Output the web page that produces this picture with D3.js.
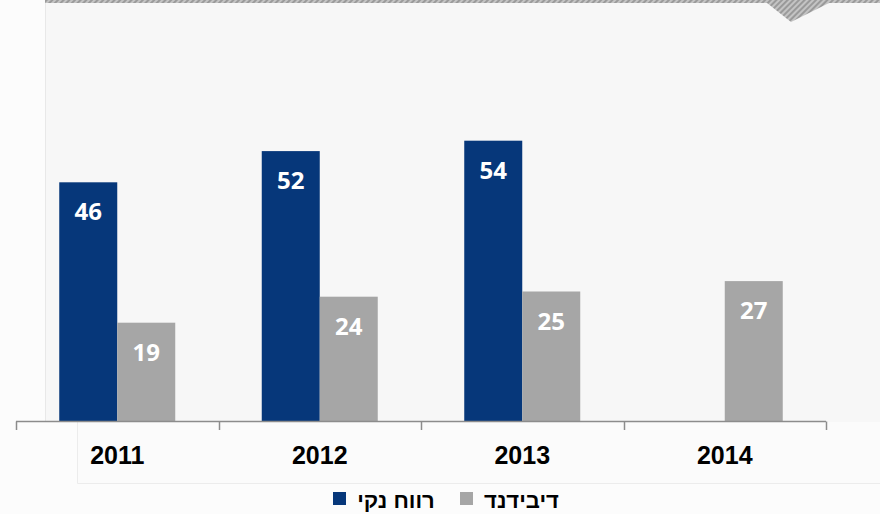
<!DOCTYPE html>
<html><head><meta charset="utf-8">
<script src="https://cdn.jsdelivr.net/npm/d3@7"></script>
<style>html,body{margin:0;padding:0;background:#fcfcfc;}svg{display:block;}</style>
</head><body>
<script>
const years = ["2011","2012","2013","2014"];
const netProfit = [46, 52, 54, null];
const dividend = [19, 24, 25, 27];
const seriesNames = ["רווח נקי", "דיבידנד"];
const seriesColors = ["#06377a", "#a6a6a6"];

const W = 880, H = 514;
const svg = d3.select("body").append("svg").attr("width", W).attr("height", H);
const defs = svg.append("defs");
const pat = defs.append("pattern").attr("id","hatch").attr("patternUnits","userSpaceOnUse")
  .attr("width",4).attr("height",4).attr("patternTransform","rotate(45)");
pat.append("rect").attr("width",4).attr("height",4).attr("fill","#c4c4c4");
pat.append("rect").attr("width",2).attr("height",4).attr("fill","#9a9a9a");

// background panels
svg.append("rect").attr("x",0).attr("y",0).attr("width",W).attr("height",H).attr("fill","#fcfcfc");
svg.append("rect").attr("x",45).attr("y",0).attr("width",W-45).attr("height",422).attr("fill","#f7f7f7");
svg.append("line").attr("x1",45.5).attr("x2",45.5).attr("y1",0).attr("y2",422).attr("stroke","#e8e8e8");
svg.append("rect").attr("x",77).attr("y",422).attr("width",W-77).attr("height",61).attr("fill","#fbfbfb");
svg.append("path").attr("d","M77.5,422V483.5H880").attr("fill","none").attr("stroke","#ececec");
// top hatched band and triangle
svg.append("rect").attr("x",45).attr("y",0).attr("width",W-45).attr("height",3).attr("fill","url(#hatch)");
svg.append("path").attr("d","M767,3L829,3L791,22Z").attr("fill","url(#hatch)");

const x = d3.scaleBand().domain(years).range([16, 826]).paddingInner(0).paddingOuter(0);
const y = d3.scaleLinear().domain([0, 60]).range([421.5, 109.5]);
const bw = 58;

const series = [netProfit, dividend];
series.forEach((vals, si) => {
  const g = svg.append("g");
  const data = years.map((yr, i) => ({yr, v: vals[i]})).filter(d => d.v != null);
  g.selectAll("rect").data(data).enter().append("rect")
    .attr("x", d => x(d.yr) + x.bandwidth()/2 + (si === 0 ? -bw : 0))
    .attr("y", d => y(d.v))
    .attr("width", bw)
    .attr("height", d => y(0) - y(d.v))
    .attr("fill", seriesColors[si]);
  g.selectAll("text").data(data).enter().append("text")
    .attr("x", d => x(d.yr) + x.bandwidth()/2 + (si === 0 ? -bw/2 : bw/2))
    .attr("y", d => y(d.v) + 38)
    .attr("text-anchor","middle")
    .attr("font-family","'Open Sans', sans-serif")
    .attr("font-weight","bold")
    .attr("font-size","24px")
    .attr("fill","#ffffff")
    .text(d => d.v);
});

// axis
const axis = d3.axisBottom(x).tickSize(0).tickPadding(0);
const ag = svg.append("g").attr("transform","translate(0,421.5)");
ag.append("line").attr("x1",16).attr("x2",826).attr("stroke","#8c8c8c").attr("stroke-width",1.5);
const tickXs = years.map(yr => x(yr)).concat([x(years[years.length-1]) + x.bandwidth()]);
ag.selectAll("line.tk").data(tickXs).enter().append("line").attr("class","tk")
  .attr("x1", d => Math.round(d)+0.5).attr("x2", d => Math.round(d)+0.5)
  .attr("y1",0).attr("y2",8.5).attr("stroke","#8c8c8c").attr("stroke-width",1.5);
const axG = svg.append("g").attr("transform","translate(0,421.5)").call(axis);
axG.select(".domain").remove();
axG.selectAll("text")
  .attr("y", 42.5).attr("dy", 0)
  .attr("font-family","'Liberation Sans', Arial, sans-serif")
  .attr("font-weight","bold")
  .attr("font-size","25px")
  .attr("fill","#000");

// legend
const legend = [
  {name: seriesNames[0], color: seriesColors[0], sx: 333, tx: 396},
  {name: seriesNames[1], color: seriesColors[1], sx: 460, tx: 521.5}
];
const lg = svg.append("g");
lg.selectAll("rect").data(legend).enter().append("rect")
  .attr("x", d => d.sx).attr("y", 492).attr("width", 13).attr("height", 13).attr("fill", d => d.color);
lg.selectAll("text").data(legend).enter().append("text")
  .attr("x", d => d.tx).attr("y", 508)
  .attr("text-anchor","middle")
  .attr("font-family","'Liberation Sans', Arial, sans-serif")
  .attr("font-weight","bold")
  .attr("font-size","22px")
  .attr("fill","#000")
  .text(d => d.name);
</script>
</body></html>
